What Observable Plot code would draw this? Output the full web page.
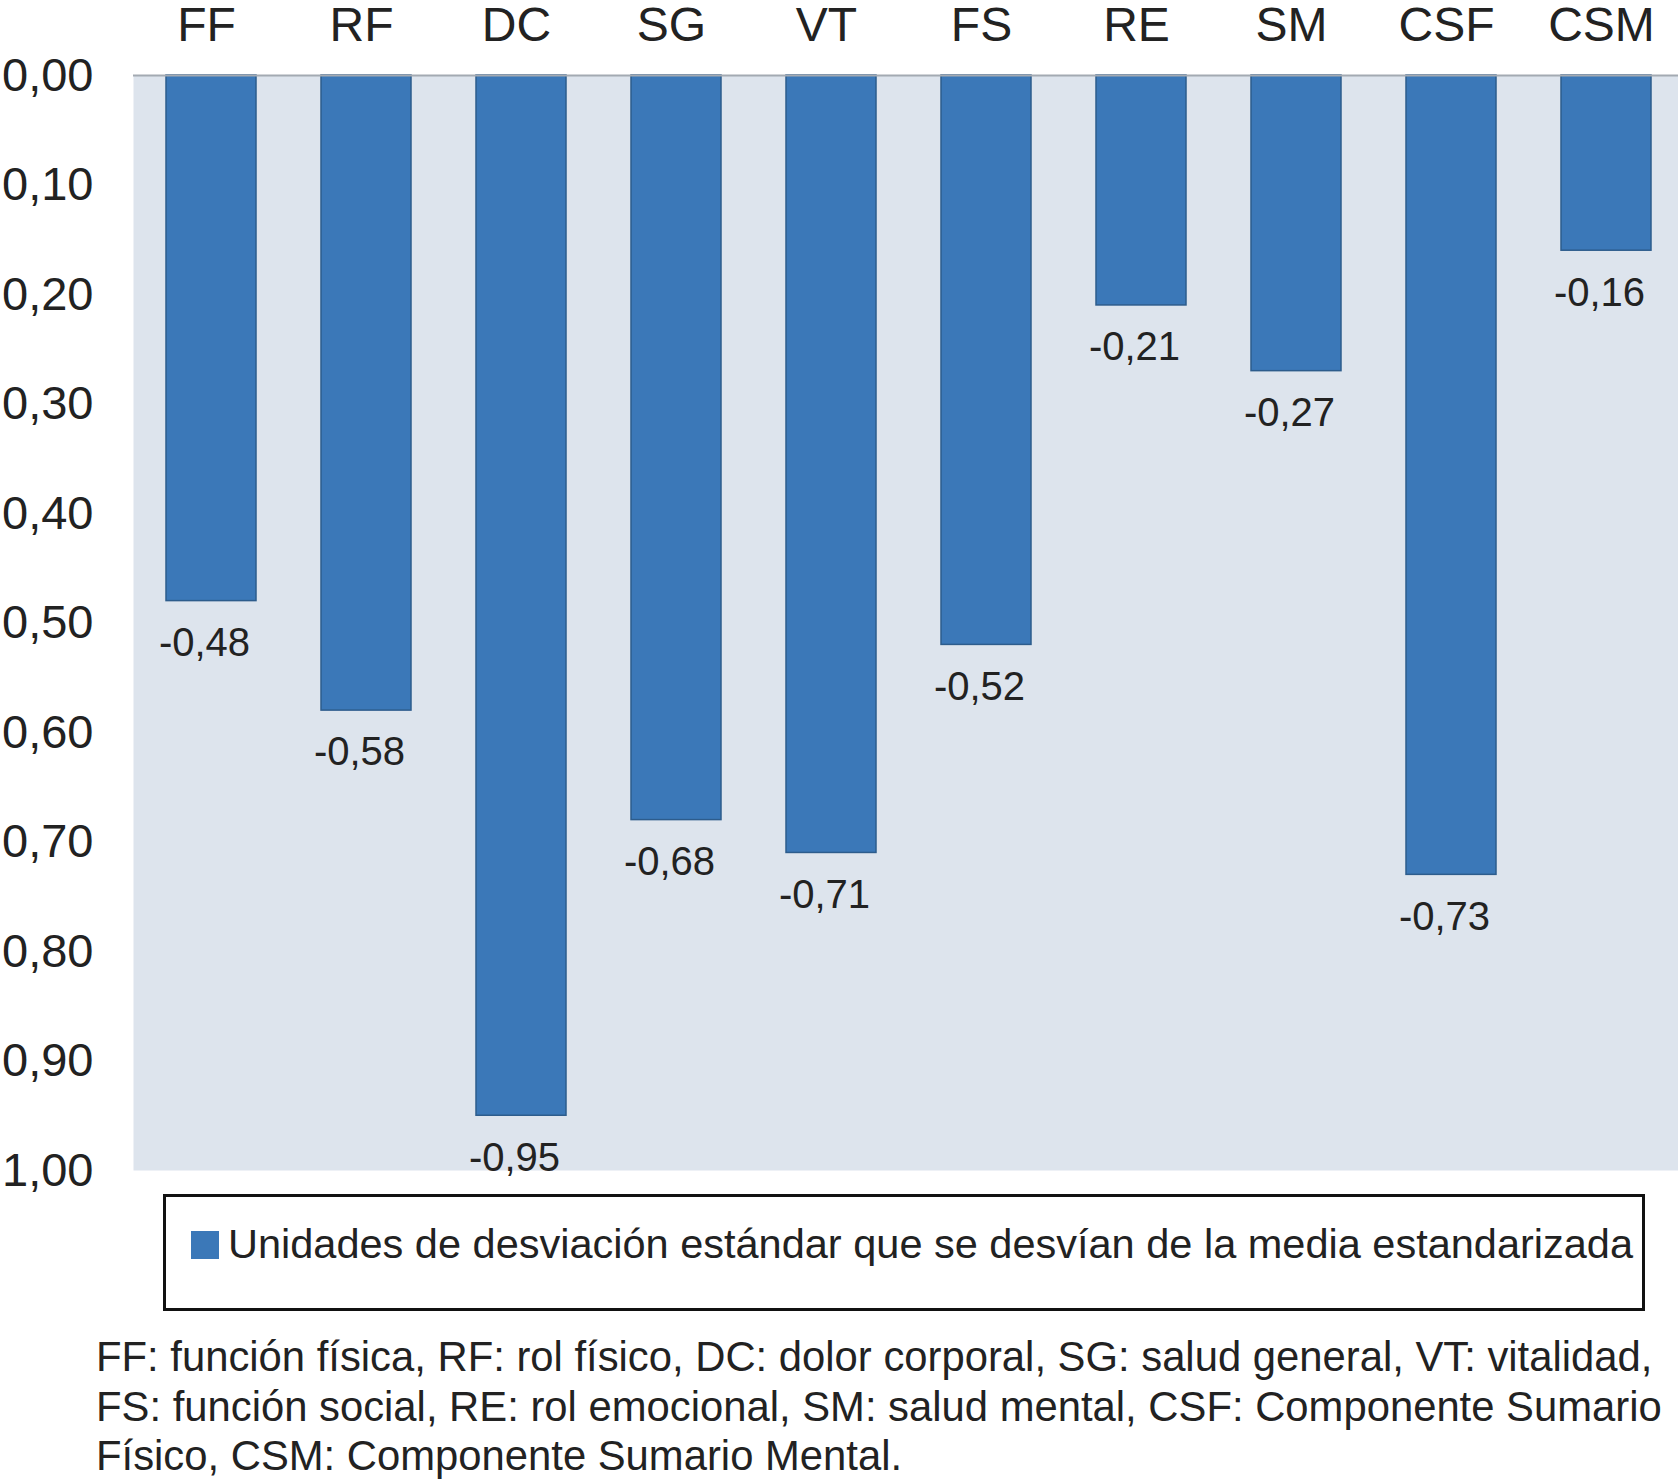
<!DOCTYPE html>
<html>
<head>
<meta charset="utf-8">
<script src="https://cdn.jsdelivr.net/npm/d3@7"></script>
<script src="https://cdn.jsdelivr.net/npm/@observablehq/plot@0.6"></script>
<style>
  body { margin: 0; background: #fff; font-family: "Liberation Sans", Arial, sans-serif; color: #222; overflow: hidden; }
  #Chart svg { display: block; overflow: visible; }
  .legend {
    margin: 0 0 0 163px;
    width: 1476px;
    height: 111px;
    border: 3px solid #111;
    position: relative;
  }
  .legend .sw { position: absolute; left: 25px; top: 34px; width: 28px; height: 28px; background: #3b78b8; }
  .legend .lab { position: absolute; left: 62px; top: 23px; font-size: 41.5px; white-space: nowrap; }
  .caption { margin: 21px 0 0 96px; font-size: 41.8px; line-height: 49.5px; width: 1580px; white-space: nowrap; }
</style>
</head>
<body>
<div id="Chart"></div>
<div class="legend"><div class="sw"></div><div class="lab">Unidades de desviación estándar que se desvían de la media estandarizada</div></div>
<div class="caption">FF: función física, RF: rol físico, DC: dolor corporal, SG: salud general, VT: vitalidad,<br>FS: función social, RE: rol emocional, SM: salud mental, CSF: Componente Sumario<br>Físico, CSM: Componente Sumario Mental.</div>
<script>
// dimensiones del SF-36
var categories = ["FF", "RF", "DC", "SG", "VT", "FS", "RE", "SM", "CSF", "CSM"];
var values = [-0.48, -0.58, -0.95, -0.68, -0.71, -0.52, -0.21, -0.27, -0.73, -0.16];
var yTicks = [0, 0.1, 0.2, 0.3, 0.4, 0.5, 0.6, 0.7, 0.8, 0.9, 1.0];

// formato con coma decimal y guion simple
var fmt = (v) => d3.format(".2f")(v).replace(".", ",").replace("\u2212", "-");

var res = categories.map((c, i) => ({ cat: c, value: values[i] }));

var options = {
  width: 1678,
  height: 1194,
  marginLeft: 133,
  marginRight: -5,
  marginTop: 75,
  marginBottom: 24,
  style: { fontFamily: "Liberation Sans, Arial, sans-serif", color: "#222", background: "transparent", overflow: "visible" },
  x: { domain: categories, paddingInner: 0.42, paddingOuter: 0.21, axis: null },
  y: { domain: [0, 1], reverse: true, axis: null },
  marks: [
    Plot.frame({ fill: "#dde4ed", stroke: null }),
    Plot.barY(res, {
      x: "cat",
      y1: 0,
      y2: (d) => -d.value,
      fill: "#3b78b8",
      stroke: "#2d5c8c",
      strokeWidth: 1.5,
    }),
    Plot.ruleY([0], { stroke: "#a3aab2", strokeWidth: 2 }),
    Plot.axisY({
      ticks: yTicks,
      tickFormat: fmt,
      tickSize: 0,
      tickPadding: 40,
      fontSize: 47,
      line: true,
      stroke: "#a3aab2",
      label: null,
    }),
    Plot.axisX({ anchor: "top", tickSize: 0, tickPadding: 35, fontSize: 48, dx: -5, label: null }),
    // etiquetas de valor bajo cada barra
    Plot.text(res, {
      x: "cat",
      y: (d) => -d.value,
      text: (d) => fmt(d.value),
      dy: 42,
      dx: -7,
      fontSize: 40,
      fill: "#222",
    }),
  ],
};

document.getElementById("Chart").append(Plot.plot(options));
</script>
</body>
</html>
